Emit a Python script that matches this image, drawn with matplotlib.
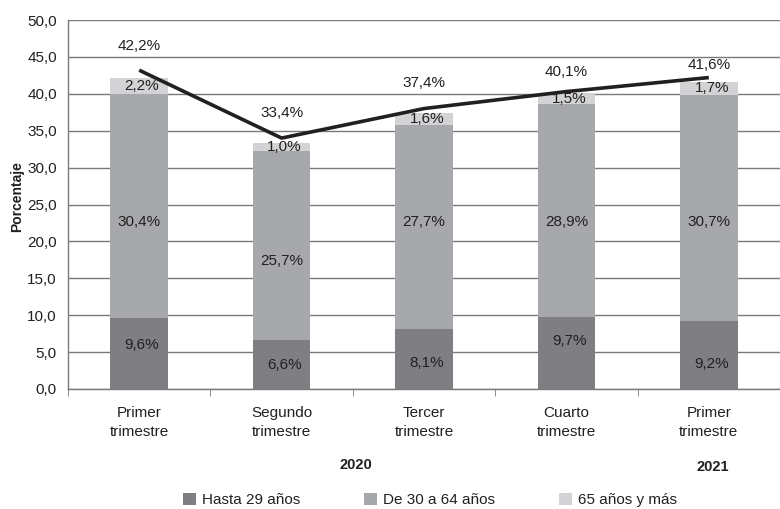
import matplotlib
matplotlib.use("Agg")
import matplotlib.pyplot as plt
from matplotlib.patches import Patch
from matplotlib.ticker import FuncFormatter, FixedLocator

plt.rcParams['font.family'] = ['Liberation Sans', 'DejaVu Sans']

categories = ["Primer\ntrimestre", "Segundo\ntrimestre", "Tercer\ntrimestre",
              "Cuarto\ntrimestre", "Primer\ntrimestre"]
years = ["2020", "2021"]
series_names = ["Hasta 29 años", "De 30 a 64 años", "65 años y más"]
hasta29 = [9.6, 6.6, 8.1, 9.7, 9.2]
de30a64 = [30.4, 25.7, 27.7, 28.9, 30.7]
mas65 = [2.2, 1.0, 1.6, 1.5, 1.7]
totals = [42.2, 33.4, 37.4, 40.1, 41.6]
line_values = [43.2, 34.0, 38.0, 40.3, 42.2]

# label placement (layout only)
total_label_y = [46.5, 37.4, 41.5, 43.0, 43.9]
low_label_y = [6.0, 3.2, 3.5, 6.5, 3.4]
mid_label_y = [22.6, 17.3, 22.6, 22.6, 22.6]

colors = ["#7f7f83", "#a7a8ab", "#d3d3d5"]

def pct(v):
    return f"{v:.1f}".replace(".", ",") + "%"

fig = plt.figure(figsize=(7.8, 5.09), dpi=100)
ax = fig.add_axes([68/780, 1 - 389/509, 1 - 68/780, (389 - 20)/509])

x = list(range(len(categories)))
w = 0.405
ax.bar(x, hasta29, width=w, color=colors[0], zorder=2, label=series_names[0])
ax.bar(x, de30a64, width=w, bottom=hasta29, color=colors[1], zorder=2, label=series_names[1])
bottom3 = [a + b for a, b in zip(hasta29, de30a64)]
ax.bar(x, mas65, width=w, bottom=bottom3, color=colors[2], zorder=2, label=series_names[2])

ax.plot(x, line_values, color="#231f20", lw=2.6, zorder=3, solid_capstyle="butt")

fs = 11
tc = "#231f20"
for i in x:
    ax.text(i + 0.02, low_label_y[i], pct(hasta29[i]), ha="center", va="center", fontsize=fs, color=tc, zorder=4)
    ax.text(i, mid_label_y[i], pct(de30a64[i]), ha="center", va="center", fontsize=fs, color=tc, zorder=4)
    ax.text(i + 0.02, bottom3[i] + mas65[i] / 2, pct(mas65[i]), ha="center", va="center", fontsize=fs, color=tc, zorder=4)
    ax.text(i, total_label_y[i], pct(totals[i]), ha="center", va="center", fontsize=fs, color=tc, zorder=4)

ax.set_xlim(-0.5, 4.5)
ax.set_ylim(0, 50)
ax.set_yticks([0, 5, 10, 15, 20, 25, 30, 35, 40, 45, 50])
ax.yaxis.set_major_formatter(FuncFormatter(lambda v, p: f"{v:.1f}".replace(".", ",")))
ax.grid(axis="y", color="#7a7a7a", lw=1.0, zorder=1)
ax.set_axisbelow(True)

ax.set_xticks(x)
ax.set_xticklabels(categories, fontsize=fs, color=tc, linespacing=1.45)
ax.xaxis.set_minor_locator(FixedLocator([-0.5, 0.5, 1.5, 2.5, 3.5, 4.5]))
ax.tick_params(axis="x", which="major", length=0, pad=12)
ax.tick_params(axis="x", which="minor", length=5, color="#7a7a7a", direction="out")
ax.tick_params(axis="y", length=0, pad=8, labelsize=fs, labelcolor=tc)

for s in ["top", "right"]:
    ax.spines[s].set_visible(False)
for s in ["left", "bottom"]:
    ax.spines[s].set_color("#7a7a7a")
    ax.spines[s].set_linewidth(1.0)

fig.text(17/780, 1 - 197/509, "Porcentaje", rotation=90, ha="center", va="center",
         fontsize=10, fontweight="bold", color=tc)
fig.text(356/780, 1 - 465/509, years[0], ha="center", va="center", fontsize=10.5, fontweight="bold", color=tc)
fig.text(713/780, 1 - 467/509, years[1], ha="center", va="center", fontsize=10.5, fontweight="bold", color=tc)

handles = [Patch(facecolor=c, edgecolor="none") for c in colors]
fig.legend(handles, series_names, loc="center", bbox_to_anchor=(430/780, 1 - 500/509),
           ncol=3, frameon=False, fontsize=fs, handlelength=0.85, handleheight=0.85,
           handletextpad=0.4, columnspacing=4.2, labelcolor=tc)

fig.savefig("out.png", dpi=100)
